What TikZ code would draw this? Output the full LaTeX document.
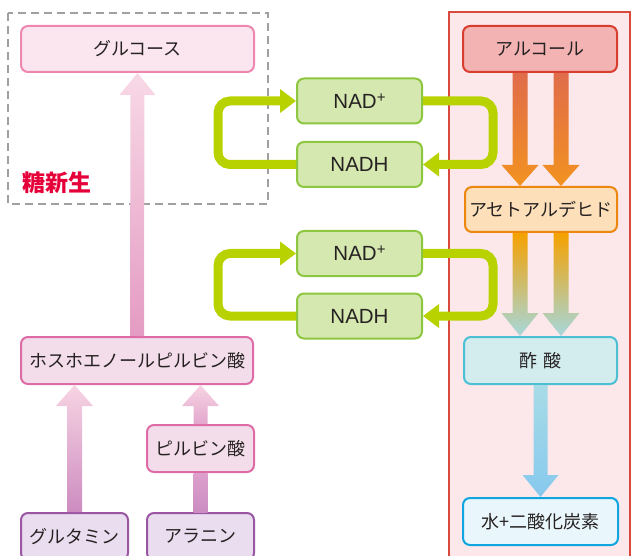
\documentclass[tikz,border=0pt]{standalone}
\usepackage{fontspec}
\setmainfont{Noto Sans CJK JP}
\newfontfamily\latinsans{Liberation Sans}
\usetikzlibrary{calc,arrows.meta}
\definecolor{txt}{HTML}{262222}
\definecolor{dashgray}{HTML}{A0A0A0}
\definecolor{panelfill}{HTML}{FCE8EA}
\definecolor{paneldraw}{HTML}{D94A3C}
\definecolor{glcfill}{HTML}{FBE6EF}
\definecolor{glcdraw}{HTML}{EE87B0}
\definecolor{pepfill}{HTML}{F3DDEA}
\definecolor{pepdraw}{HTML}{DE6BA6}
\definecolor{aafill}{HTML}{EADDF0}
\definecolor{aadraw}{HTML}{9A55A3}
\definecolor{nadfill}{HTML}{D5E8B0}
\definecolor{naddraw}{HTML}{8DC63F}
\definecolor{loopgreen}{HTML}{B8D200}
\definecolor{alcfill}{HTML}{F4B3B3}
\definecolor{alcdraw}{HTML}{D83E2E}
\definecolor{aldfill}{HTML}{FDDFBA}
\definecolor{alddraw}{HTML}{EC870F}
\definecolor{acefill}{HTML}{D3ECEE}
\definecolor{acedraw}{HTML}{4DBFD3}
\definecolor{watfill}{HTML}{E9F6FB}
\definecolor{watdraw}{HTML}{0EA5E0}
\definecolor{tored}{HTML}{E5003A}
\newcommand\fatarr[6]{%
  \coordinate (fa-b) at ($(#2)!#5!(#1)$);
  \shade[#6] ($(#1)!#3!90:(#2)$) -- ($(fa-b)!#3!90:(#2)$) -- ($(fa-b)!#4!90:(#2)$) -- (#2)
    -- ($(fa-b)!#4!-90:(#2)$) -- ($(fa-b)!#3!-90:(#2)$) -- ($(#1)!#3!-90:(#2)$) -- cycle;}
\begin{document}
\begin{tikzpicture}[x=1pt,y=-1pt,
  box/.style={rounded corners=7pt, line width=2pt, inner sep=0pt, text=txt,
    font=\fontsize{18}{21}\selectfont, minimum height=46pt},
  nadbox/.style={box, fill=nadfill, draw=naddraw, minimum width=125pt, minimum height=45pt,
    font=\latinsans\fontsize{20.5}{23}\selectfont},
  greenloop/.style={draw=loopgreen, line width=9pt, rounded corners=12pt,
    -{Triangle[width=23pt,length=16pt]}}
]
\clip (0,0) rectangle (632,556);
% backgrounds
\draw[fill=panelfill, draw=paneldraw, line width=2pt] (449,12) rectangle (630,590);
\draw[dashgray, line width=2.5pt, dash pattern=on 8pt off 5pt] (8,13) rectangle (268,204);
\node[text=tored, font=\bfseries\fontsize{23}{25}\selectfont] (tsn) at (57,183) {糖新生};
% left nodes
\node[box, fill=glcfill, draw=glcdraw, minimum width=233pt] (glc) at (137.5,49) {グルコース};
\node[box, fill=pepfill, draw=pepdraw, minimum width=232pt, minimum height=47pt] (pep) at (137,360.5) {ホスホエノールピルビン酸};
\node[box, fill=pepfill, draw=pepdraw, minimum width=107pt, minimum height=47pt] (pyr) at (200.5,448.5) {ピルビン酸};
\node[box, fill=aafill, draw=aadraw, minimum width=107pt, minimum height=47pt] (glu) at (74.5,536.5) {グルタミン};
\node[box, fill=aafill, draw=aadraw, minimum width=107pt, minimum height=47pt] (ala) at (200.5,536.5) {アラニン};
% NAD nodes
\node[nadbox] (nad1) at (359.5,101) {NAD\raisebox{6pt}{\fontsize{15}{15}\selectfont +}};
\node[nadbox] (nadh1) at (359.5,164.5) {NADH};
\node[nadbox] (nad2) at (359.5,253.5) {NAD\raisebox{6pt}{\fontsize{15}{15}\selectfont +}};
\node[nadbox] (nadh2) at (359.5,316) {NADH};
% right nodes
\node[box, fill=alcfill, draw=alcdraw, minimum width=154pt] (alc) at (540,49) {アルコール};
\node[box, fill=aldfill, draw=alddraw, minimum width=152pt, minimum height=45pt] (ald) at (541,209.5) {アセトアルデヒド};
\node[box, fill=acefill, draw=acedraw, minimum width=153pt, minimum height=47pt] (ace) at (540.5,360.5) {酢\hspace{7pt}酸};
\node[box, fill=watfill, draw=watdraw, minimum width=155pt, minimum height=47pt] (wat) at (540.5,521.5) {水+二酸化炭素};
% fat arrows left
\fatarr{pep.north}{glc.south}{7pt}{18pt}{22pt}{top color={rgb,255:red,248;green,217;blue,230}, bottom color={rgb,255:red,228;green,155;blue,195}}
\coordinate (gluT) at (glu.north |- pep.south);
\fatarr{glu.north}{gluT}{7.5pt}{18.5pt}{21pt}{top color={rgb,255:red,247;green,212;blue,227}, bottom color={rgb,255:red,205;green,140;blue,192}}
\coordinate (pyrT) at (pyr.north |- pep.south);
\fatarr{pyr.north}{pyrT}{7pt}{18.5pt}{21pt}{top color={rgb,255:red,247;green,212;blue,227}, bottom color={rgb,255:red,227;green,167;blue,205}}
\shade[top color={rgb,255:red,221;green,160;blue,204}, bottom color={rgb,255:red,203;green,140;blue,193}]
  ($(pyr.south)+(-7,0)$) rectangle ($(ala.north)+(7,0)$);
% fat arrows right
\coordinate (a1) at ($(alc.south)+(-20,0)$);
\coordinate (a1e) at (a1 |- ald.north);
\coordinate (a2) at ($(alc.south)+(21,0)$);
\coordinate (a2e) at (a2 |- ald.north);
\fatarr{a1}{a1e}{7.5pt}{18.5pt}{21pt}{top color={rgb,255:red,224;green,108;blue,74}, bottom color={rgb,255:red,242;green,146;blue,32}}
\fatarr{a2}{a2e}{7.5pt}{18.5pt}{21pt}{top color={rgb,255:red,224;green,108;blue,74}, bottom color={rgb,255:red,242;green,146;blue,32}}
\coordinate (b1) at (a1 |- ald.south);
\coordinate (b1e) at (a1 |- ace.north);
\coordinate (b2) at (a2 |- ald.south);
\coordinate (b2e) at (a2 |- ace.north);
\fatarr{b1}{b1e}{7.5pt}{18.5pt}{23pt}{top color={rgb,255:red,245;green,161;blue,0}, bottom color={rgb,255:red,166;green,216;blue,220}}
\fatarr{b2}{b2e}{7.5pt}{18.5pt}{23pt}{top color={rgb,255:red,245;green,161;blue,0}, bottom color={rgb,255:red,166;green,216;blue,220}}
\fatarr{ace.south}{wat.north}{7pt}{18pt}{22pt}{top color={rgb,255:red,168;green,219;blue,230}, bottom color={rgb,255:red,134;green,201;blue,238}}
% green loops
\draw[greenloop] (nad1.east) -- ++(70,0) |- (nadh1.east);
\draw[greenloop] (nadh1.west) -- ++(-78,0) |- (nad1.west);
\draw[greenloop] (nad2.east) -- ++(70,0) |- (nadh2.east);
\draw[greenloop] (nadh2.west) -- ++(-78,0) |- (nad2.west);
\end{tikzpicture}
\end{document}
